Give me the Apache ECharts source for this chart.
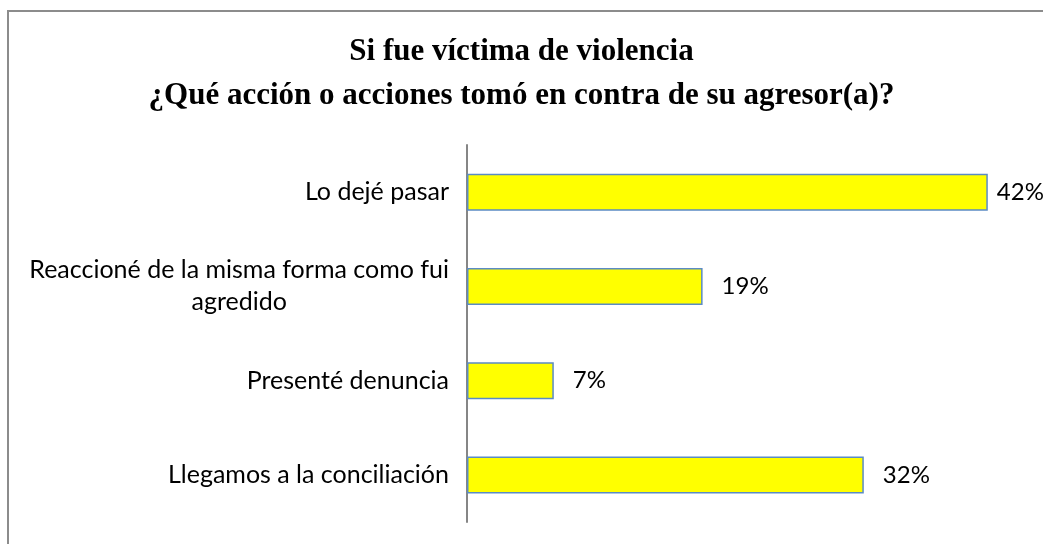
<!DOCTYPE html>
<html>
<head>
<meta charset="utf-8">
<script src="https://cdn.jsdelivr.net/npm/echarts@6/dist/echarts.min.js"></script>
<style>
  html, body { margin: 0; padding: 0; background: #fff; }
  #chart { width: 1043px; height: 544px; }
</style>
</head>
<body>
<div id="chart"></div>
<script>
// datos
const categories = [
  'Lo dejé pasar',
  'Reaccioné de la misma forma como fui\nagredido',
  'Presenté denuncia',
  'Llegamos a la conciliación'
]
const percents = [42, 19, 7, 32]

const titleLines = [
  'Si fue víctima de violencia',
  '¿Qué acción o acciones tomó en contra de su agresor(a)?'
]

const myChart = echarts.init(document.getElementById('chart'))

const option = {
  animation: false,
  backgroundColor: '#fff',
  title: {
    text: titleLines.join('\n'),
    left: 'center',
    top: 25,
    textStyle: {
      fontFamily: 'Liberation Serif',
      fontWeight: 'bold',
      fontSize: 31,
      lineHeight: 44,
      color: '#000'
    }
  },
  graphic: [{
    type: 'rect',
    shape: { x: 8, y: 11, width: 1100, height: 600 },
    style: { fill: 'none', stroke: '#8c8c8c', lineWidth: 2 },
    silent: true
  }],
  grid: {
    left: 467,
    right: 18,
    top: 145,
    bottom: 22
  },
  xAxis: {
    type: 'value',
    min: 0,
    max: 45,
    show: false,
    splitLine: { show: false }
  },
  yAxis: {
    type: 'category',
    inverse: true,
    data: categories,
    axisLine: { lineStyle: { color: '#868686', width: 2 } },
    axisTick: { show: false },
    axisLabel: {
      margin: 18,
      fontFamily: 'Lato',
      fontSize: 25,
      color: '#000',
      lineHeight: 32,
      formatter: v => '{c|' + v.split('\n').join('}\n{c|') + '}',
      rich: {
        c: { align: 'center', fontFamily: 'Lato', fontSize: 25, lineHeight: 32, color: '#000' }
      }
    }
  },
  series: [{
    type: 'bar',
    barWidth: 37,
    data: percents.map((v, i) => ({
      value: v,
      label: { distance: i === 0 ? 9 : 19 }
    })),
    itemStyle: {
      color: '#ffff00',
      borderColor: '#5b8bc4',
      borderWidth: 1.5
    },
    label: {
      show: true,
      position: 'right',
      fontFamily: 'Lato',
      fontSize: 24,
      color: '#000',
      formatter: p => p.value + '%'
    }
  }]
}

myChart.setOption(option)
</script>
</body>
</html>
